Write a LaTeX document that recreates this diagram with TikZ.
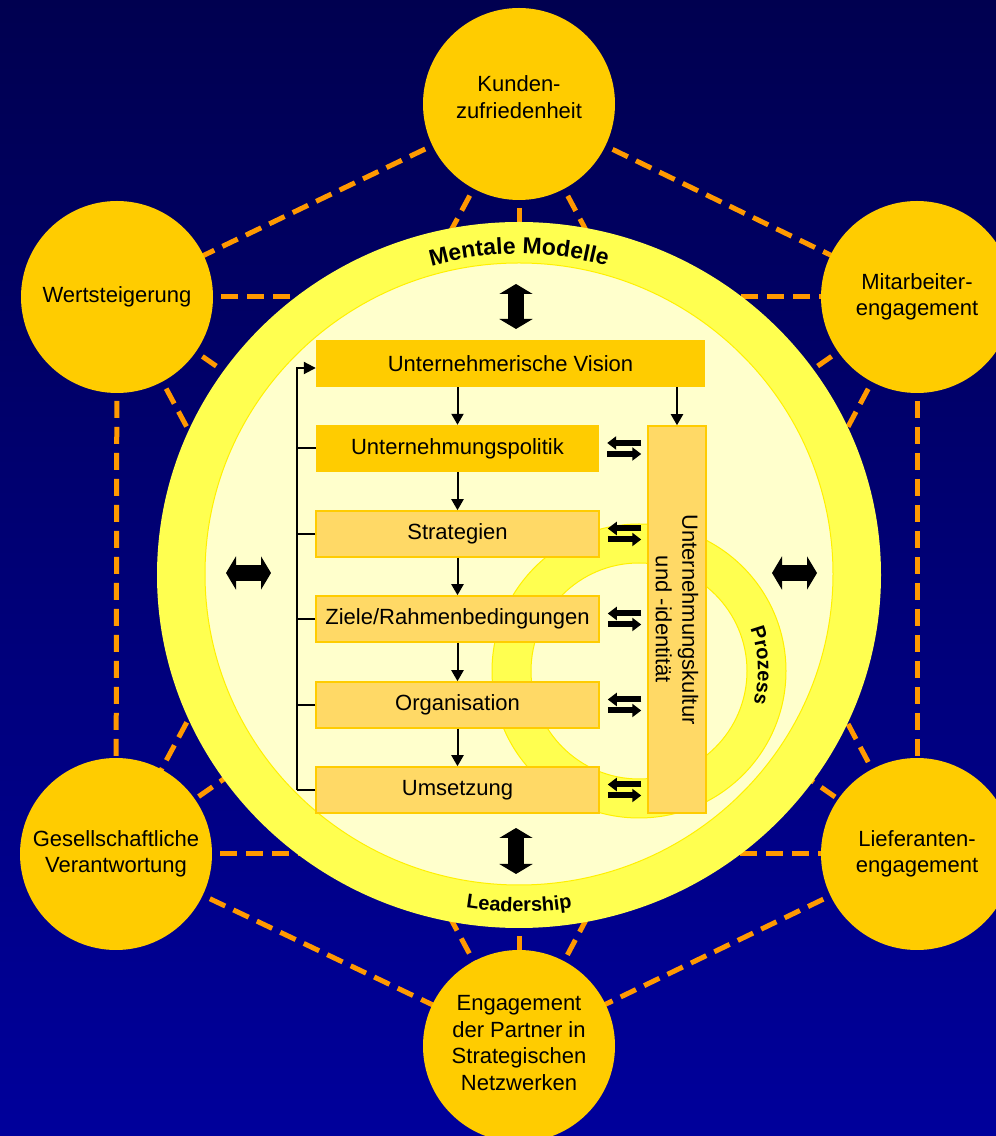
\documentclass[tikz,border=0pt]{standalone}
\usepackage{fontspec}
\setmainfont{Liberation Sans}
\usetikzlibrary{arrows.meta,decorations.text,calc}

\definecolor{bgtop}{RGB}{0,0,80}
\definecolor{bgbot}{RGB}{0,0,155}
\definecolor{gold}{RGB}{255,204,0}
\definecolor{lightgold}{RGB}{255,217,102}
\definecolor{band}{RGB}{255,255,80}
\definecolor{pale}{RGB}{255,255,204}
\definecolor{rim}{RGB}{255,240,0}
\definecolor{dashorange}{RGB}{255,153,0}

\newcommand{\mybodyfont}{\fontsize{22}{26.5}\selectfont}

\tikzset{
  sat/.style={circle, fill=gold, minimum size=192pt, inner sep=0pt, align=center, font=\mybodyfont},
  sattext/.style={align=center, font=\mybodyfont, inner sep=0pt},
  dashline/.style={draw=dashorange, line width=5pt, dash pattern=on 17pt off 9pt},
  darkbox/.style={fill=gold, minimum height=47pt, inner sep=0pt, font=\mybodyfont},
  lightbox/.style={fill=lightgold, draw=gold, line width=1.5pt, minimum height=46pt, minimum width=283pt, inner sep=0pt, font=\mybodyfont},
  flow/.style={line width=2pt, -{Triangle[length=11pt,width=12pt]}},
  fb/.style={line width=2pt},
  bigarrow/.style={line width=16pt, {Triangle[length=10pt,width=33pt]}-{Triangle[length=10pt,width=33pt]}},
  smallarrow/.style={line width=6pt, -{Triangle[length=9pt,width=13pt]}},
}

\begin{document}
\begin{tikzpicture}[x=1pt,y=1pt]
\useasboundingbox (0,0) rectangle (996,1136);
\clip (0,0) rectangle (996,1136);
\shade[top color=bgtop,bottom color=bgbot] (0,0) rectangle (996,1136);

% satellite centres
\coordinate (T)  at (519,1032);
\coordinate (LT) at (117,839);
\coordinate (RT) at (917,839);
\coordinate (LB) at (116,282);
\coordinate (RB) at (917,282);
\coordinate (B)  at (519,90);

% dashed network
\foreach \a/\b in {T/LT,T/RT,T/LB,T/RB,T/B,LT/RT,LT/LB,LT/RB,LT/B,RT/LB,RT/RB,RT/B,LB/RB,LB/B,RB/B}
  \draw[dashline] (\a) -- (\b);

% satellites
\node[sat] (nT)  at (T)  {};
\node[sattext] (nTt) at (519,1039) {Kunden-\\zufriedenheit};
\node[sat] (nLT) at (LT) {Wertsteigerung};
\node[sat] (nRT) at (RT) {Mitarbeiter-\\engagement};
\node[sat] (nLB) at (LB) {Gesellschaftliche\\Verantwortung};
\node[sat] (nRB) at (RB) {Lieferanten-\\engagement};
\node[sat] (nB)  at (B)  {};
\node[sattext] (nBt) at (519,93) {Engagement\\der Partner in\\Strategischen\\Netzwerken};

% big circle
\fill[band] (519,561) ellipse [x radius=362, y radius=353];
\filldraw[fill=pale, draw=rim, line width=1pt] (519,562) ellipse [x radius=314, y radius=311];

% process ring
\filldraw[fill=band, draw=rim, line width=1pt] (639,465) circle [radius=147];
\filldraw[fill=pale, draw=rim, line width=1pt] (639,465) circle [radius=108];

% curved labels
\path[decorate, decoration={text along path, text align=center,
  text={|\fontsize{23}{27}\selectfont\bfseries|Mentale Modelle}}]
  (519,561) ++(120:321) arc[start angle=120, end angle=60, radius=321];
\path[decorate, decoration={text along path, text align=center,
  text={|\fontsize{20}{24}\selectfont\bfseries|Leadership}}]
  (519,561) ++(-115:337) arc[start angle=-115, end angle=-65, radius=337];
\path[decorate, decoration={text along path, text align=center,
  text={|\fontsize{20}{24}\selectfont\bfseries|Prozess}}]
  (639,465) ++(42:119) arc[start angle=42, end angle=-37, radius=119];

% boxes
\node[darkbox, minimum width=389pt] (vision) at (510.5,772.5) {Unternehmerische Vision};
\node[darkbox, minimum width=283pt] (politik) at (457.5,687.5) {Unternehmungspolitik};
\node[lightbox] (strat) at (457.5,602) {Strategien};
\node[lightbox] (ziele) at (457.5,517) {Ziele/Rahmenbedingungen};
\node[lightbox] (org) at (457.5,431) {Organisation};
\node[lightbox] (ums) at (457.5,346) {Umsetzung};
\node[lightbox, minimum width=58pt, minimum height=387pt] (kultur) at (677,516.5) {};
\node[rotate=-90, align=center, font=\mybodyfont] (kulturtext) at (kultur.center) {Unternehmungskultur\\und -identität};

% flow arrows
\draw[flow] (vision.south -| politik.north) -- (politik.north);
\draw[flow] (vision.south -| kultur.north) -- (kultur.north);
\draw[flow] (politik.south) -- (strat.north);
\draw[flow] (strat.south) -- (ziele.north);
\draw[flow] (ziele.south) -- (org.north);
\draw[flow] (org.south) -- (ums.north);

% feedback bus
\coordinate (busx) at (297,0);
\coordinate (vin) at ($(vision.west)+(0,-4.5)$);
\draw[fb, -{Triangle[length=12pt,width=12pt]}] (ums.west -| busx) |- (vin);
\foreach \n in {politik,strat,ziele,org,ums}
  \draw[fb] (\n.west) -- (\n.west -| busx);

% small double arrows
\foreach \n in {politik,strat,ziele,org,ums}{
  \draw[smallarrow] ($(\n.east -| kultur.west)+(-6,5.5)$) -- ($(\n.east)+(8,5.5)$);
  \draw[smallarrow] ($(\n.east)+(8,-5.5)$) -- ($(\n.east -| kultur.west)+(-6,-5.5)$);
}

% big double arrows
\coordinate (tA) at (516,852); \coordinate (tB) at (516,807);
\coordinate (bA) at (516,308); \coordinate (bB) at (516,262);
\coordinate (lA) at (226,563); \coordinate (lB) at (271,563);
\coordinate (rA) at (772,563); \coordinate (rB) at (817,563);
\draw[bigarrow] (tA) -- (tB);
\draw[bigarrow] (bA) -- (bB);
\draw[bigarrow] (lA) -- (lB);
\draw[bigarrow] (rA) -- (rB);
\end{tikzpicture}
\end{document}
